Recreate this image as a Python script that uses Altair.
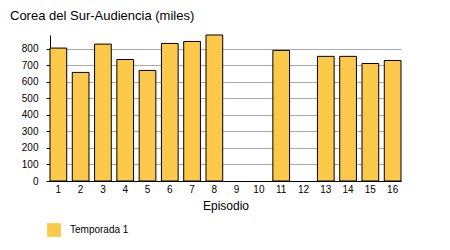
import altair as alt
import pandas as pd

episodes = [str(i) for i in range(1, 17)]
audience = [803, 656, 827, 734, 668, 831, 843, 882, None, None, 789, None, 753, 753, 710, 728]
series = ["Temporada 1"] * 16

df = pd.DataFrame({"Episodio": episodes, "Audiencia": audience, "Serie": series})

FONT = "Liberation Sans"

chart = alt.Chart(df).mark_bar(stroke="black", strokeWidth=1).encode(
    x=alt.X("Episodio:O", sort=episodes,
            scale=alt.Scale(paddingInner=0.25, paddingOuter=0.0),
            axis=alt.Axis(title="Episodio", labelAngle=0, labelFontSize=10, titleFontSize=12,
                          titleFontWeight="normal", domainColor="black", ticks=False,
                          labelPadding=3, titlePadding=6, labelColor="black", titleColor="black")),
    y=alt.Y("Audiencia:Q", scale=alt.Scale(domain=[0, 882], nice=False),
            axis=alt.Axis(title=None, values=[0, 100, 200, 300, 400, 500, 600, 700, 800],
                          labelFontSize=10, domainColor="black", tickColor="black", tickSize=4,
                          gridColor="#aaaaaa", labelColor="black", labelPadding=8)),
    color=alt.Color("Serie:N", scale=alt.Scale(range=["#fdc94b"]),
                    legend=alt.Legend(title=None, orient="none", legendX=-3, legendY=188,
                                      symbolType="square", symbolSize=190, symbolStrokeWidth=0,
                                      symbolOpacity=1, labelFontSize=10, labelColor="black",
                                      labelOffset=9)),
).properties(
    width=351, height=146,
    title=alt.TitleParams("Corea del Sur-Audiencia (miles)", anchor="start", frame="group", dx=-40,
                          fontSize=13, fontWeight="normal", offset=12, color="black"),
    padding={"left": 50, "top": 35, "right": 49, "bottom": 69},
    autosize=alt.AutoSizeParams(type="none"),
).configure(font=FONT).configure_view(stroke=None).configure_axis(domainWidth=1)

chart.save("out.html", embed_options={"renderer": "svg", "actions": False})
